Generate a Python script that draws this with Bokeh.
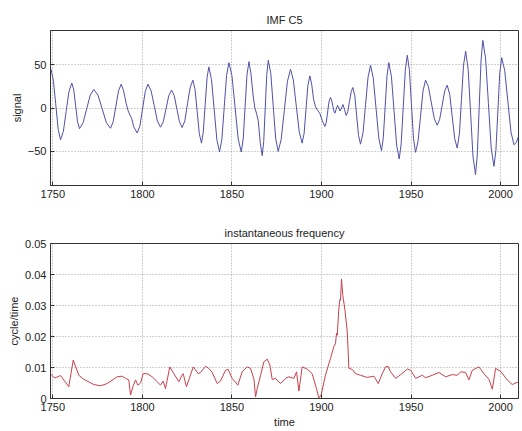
from bokeh.plotting import figure
from bokeh.layouts import column
from bokeh.models import Range1d, FixedTicker, CustomJSTickFormatter
from bokeh.embed import file_html
from bokeh.resources import INLINE

# ---- data ----
signal_years = [
    1749.0, 1750.3, 1751.6, 1753.0, 1754.3,
    1755.9, 1757.45, 1759.0, 1760.6,
    1761.7, 1762.75, 1763.8, 1764.9,
    1766.9, 1768.9, 1770.9, 1772.9,
    1775.2, 1777.55, 1779.9, 1782.2,
    1783.7, 1785.2, 1786.7, 1788.2,
    1789.5, 1791.0, 1792.0, 1793.0, 1794.0, 1795.2, 1797.1,
    1798.6, 1800.1, 1801.6, 1803.1,
    1804.85, 1806.6, 1808.35, 1810.1,
    1811.65, 1813.2, 1814.75, 1816.3,
    1817.8, 1819.25, 1820.7, 1822.2,
    1823.7, 1825.2, 1826.7, 1828.2,
    1829.4, 1830.6, 1831.8, 1833.0,
    1834.0, 1835.05, 1836.1, 1837.1,
    1838.6, 1840.1, 1841.6, 1843.1,
    1844.4, 1845.7, 1847.0, 1848.3,
    1850.0, 1851.75, 1853.5, 1855.2,
    1856.3, 1857.35, 1858.4, 1859.5,
    1860.6, 1861.8, 1862.8, 1863.7, 1864.7, 1865.8, 1866.9,
    1867.75, 1868.6, 1869.45, 1870.3,
    1871.7, 1873.05, 1874.4, 1875.8,
    1877.5, 1879.25, 1881.0, 1882.7,
    1884.3, 1885.95, 1887.6, 1889.2,
    1890.3, 1891.35, 1892.4, 1893.5,
    1894.5, 1895.6, 1896.6, 1897.6, 1899.0, 1900.5, 1901.9,
    1902.7, 1903.45, 1904.2, 1905.0,
    1905.6, 1906.25, 1906.9, 1907.5,
    1908.2, 1909.0, 1909.7, 1910.4, 1911.2, 1912.0, 1912.9, 1913.8,
    1914.7, 1915.65, 1916.6, 1917.5,
    1918.6, 1919.65, 1920.7, 1921.8,
    1923.2, 1924.6, 1926.0, 1927.4,
    1928.9, 1930.45, 1932.0, 1933.5,
    1934.5, 1935.55, 1936.6, 1937.6,
    1939.05, 1940.5, 1941.95, 1943.4,
    1944.5, 1945.65, 1946.8, 1947.9,
    1949.05, 1950.2, 1951.35, 1952.5,
    1953.9, 1955.3, 1956.7, 1958.1,
    1959.7, 1961.35, 1963.0, 1964.6,
    1966.0, 1967.4, 1968.8, 1970.2,
    1971.6, 1973.0, 1974.4, 1975.8,
    1977.0, 1978.15, 1979.3, 1980.5,
    1981.9, 1983.25, 1984.6, 1986.0,
    1987.0, 1988.05, 1989.1, 1990.1,
    1991.65, 1993.2, 1994.75, 1996.3,
    1997.4, 1998.45, 1999.5, 2000.6,
    2002.3, 2004.05, 2005.8, 2007.5,
    2008.8, 2010.0,
]
signal_values = [
    45, 32, 5, -25, -37,
    -27, -4, 19, 29,
    21, 2.5, -16, -24,
    -17, -1, 15, 21.5,
    15, -1, -17, -23.5,
    -16, 2, 20, 27.7,
    20, 5, -3, -8, -12, -22, -29,
    -21, -1, 19, 27.7,
    20, 3, -15, -22.3,
    -16, -1, 14.5, 20.8,
    14.4, -1, -16, -22.7,
    -15, 5, 24, 32.3,
    21.6, -4, -30, -40.8,
    -28, 3.5, 35, 47.7,
    33, -2, -37, -51,
    -36, 1, 37.6, 52.7,
    37.6, 1, -36, -51,
    -36, 1.4, 38.5, 53.8,
    40, 15, 0, -6, -15, -40, -55.4,
    -39, 0, 39, 55.4,
    40, 2.5, -35, -50.4,
    -36.5, -2.7, 31, 45,
    32.5, 2, -28, -40.8,
    -29.4, -1.75, 26, 37.3,
    28, 10, 2, -2, -6, -15, -21.5,
    -16.5, -4.6, 7.4, 12.3,
    9.6, 3.2, -3.3, -6,
    -1.5, 3, 0, -3.5, 0, 4, -2, -8.8,
    -4, 7.5, 19, 23.8,
    14, -9, -32, -42,
    -28.6, 3.8, 36, 49.6,
    35, 0, -35, -49.6,
    -34.7, 1.5, 37.8, 52.7,
    36.4, -3, -43, -59.2,
    -41.6, 1, 43.6, 61.2,
    44.7, 5, -35, -51.5,
    -39, -9.6, 20, 32.3,
    24.7, 6, -12.4, -20,
    -13, 3.3, 19.7, 26.5,
    15.8, -10, -35.8, -46.5,
    -30, 9.8, 49.6, 66,
    45, -5.7, -56.4, -77.3,
    -54.5, 0.6, 55.7, 78.5,
    57, 5.4, -46.4, -67.7,
    -49, -4.6, 40, 58.5,
    43.7, 8, -28, -42.7,
    -40, -33,
]

freq_years = [
    1749, 1751, 1754.3, 1758.9, 1761.4, 1764.5, 1767.3, 1772.9, 1776.6, 1780.3,
    1785.9, 1788.7, 1790.6, 1792.4, 1793.4, 1794.7, 1796.2, 1797.5, 1799, 1800.4,
    1802.7, 1805.5, 1808.3, 1810.1, 1811.6, 1812.9, 1815.3, 1817.6, 1820.4, 1822.2,
    1822.8, 1824.6, 1828.4, 1831.2, 1832.5, 1835.3, 1837.1, 1839, 1841.8, 1843.6,
    1846.4, 1847.9, 1850.1, 1853.3, 1855.7, 1858.5, 1860.4, 1862.3, 1863.2, 1864.1,
    1866, 1867.8, 1869.7, 1871.2, 1872.5, 1874.3, 1877.1, 1879.9, 1881.8, 1884.6,
    1886.1, 1887.4, 1889.2, 1892, 1894.8, 1897.2, 1898.5, 1899.8, 1902.2, 1905,
    1906.9, 1907.8, 1908.4, 1908.8, 1909.7, 1910.3, 1910.6, 1911.2, 1911.9, 1913.1,
    1914.4, 1915.3, 1917.2, 1919, 1921.8, 1925.5, 1929.3, 1931.7, 1933.9, 1935.8,
    1937.1, 1938.6, 1941.4, 1944.2, 1947.9, 1949.8, 1952.6, 1956.3, 1958.1, 1961.9,
    1965.6, 1969.3, 1973, 1975.8, 1977.7, 1980.5, 1982.3, 1984.2, 1987.9, 1990.7,
    1993.5, 1995.4, 1997.2, 2000, 2003.7, 2006.5, 2010,
]
freq_values = [
    0.0078, 0.0066, 0.0074, 0.0038, 0.0124, 0.0075, 0.0062, 0.0045, 0.0041, 0.0048,
    0.0070, 0.0072, 0.0065, 0.0060, 0.0011, 0.0038, 0.0060, 0.0043, 0.0050, 0.0080,
    0.0080, 0.0070, 0.0054, 0.0043, 0.0056, 0.0032, 0.0102, 0.0080, 0.0054, 0.0077,
    0.0080, 0.0038, 0.0102, 0.0080, 0.0084, 0.0104, 0.0097, 0.0084, 0.0048, 0.0056,
    0.0091, 0.0094, 0.0065, 0.0043, 0.0086, 0.0102, 0.0097, 0.0062, 0.0005, 0.0032,
    0.0075, 0.0118, 0.0127, 0.0108, 0.0061, 0.0065, 0.0048, 0.0065, 0.0070, 0.0065,
    0.0086, 0.0024, 0.0102, 0.0095, 0.0080, 0.0032, 0.0002, 0.0011, 0.0075, 0.0129,
    0.0167, 0.0177, 0.0210, 0.0204, 0.0290, 0.0320, 0.0317, 0.0385, 0.0333, 0.0285,
    0.0215, 0.0097, 0.0094, 0.0080, 0.0075, 0.0068, 0.0072, 0.0048, 0.0080, 0.0102,
    0.0104, 0.0086, 0.0065, 0.0077, 0.0095, 0.0091, 0.0065, 0.0075, 0.0067, 0.0075,
    0.0084, 0.0070, 0.0077, 0.0075, 0.0086, 0.0084, 0.0060, 0.0091, 0.0102, 0.0080,
    0.0062, 0.0030, 0.0097, 0.0088, 0.0060, 0.0045, 0.0054,
]

x_ticks = [1750, 1800, 1850, 1900, 1950, 2000]
signal_ticks = [-50, 0, 50]
freq_ticks = [0, 0.01, 0.02, 0.03, 0.04, 0.05]

FONT = "Liberation Sans"


def style(p, title, ylabel, yticks):
    p.title.text = title
    p.title.align = "center"
    p.title.text_font = FONT
    p.title.text_font_size = "11px"
    p.title.text_font_style = "normal"
    p.title.text_color = "#222222"
    p.outline_line_color = "#333333"
    p.outline_line_width = 1
    p.background_fill_color = "white"
    p.border_fill_color = "white"
    p.xaxis.ticker = FixedTicker(ticks=x_ticks)
    p.yaxis.ticker = FixedTicker(ticks=yticks)
    for ax in (p.xaxis, p.yaxis):
        ax.major_tick_in = 4
        ax.major_tick_out = 0
        ax.minor_tick_line_color = None
        ax.axis_line_color = "#333333"
        ax.major_tick_line_color = "#333333"
        ax.major_label_text_font = FONT
        ax.major_label_text_font_size = "11px"
        ax.major_label_text_color = "#222222"
        ax.axis_label_text_font = FONT
        ax.axis_label_text_font_size = "11px"
        ax.axis_label_text_font_style = "normal"
        ax.axis_label_text_color = "#222222"
    p.yaxis.axis_label = ylabel
    p.yaxis.major_label_standoff = 4
    p.yaxis.axis_label_standoff = 2
    p.xaxis.major_label_standoff = 4
    p.grid.grid_line_color = "#a0a0a0"
    p.grid.grid_line_dash = "1 2"
    p.grid.grid_line_width = 1


top = figure(width=522, height=215, output_backend="svg", toolbar_location=None,
             x_range=Range1d(1748.7, 2010), y_range=Range1d(-90, 90),
             min_border_left=50, min_border_right=4, min_border_top=30,
             min_border_bottom=30)
style(top, "IMF C5", "signal", signal_ticks)
top.line(signal_years, signal_values, line_color="#5050a8", line_width=1)

bot = figure(width=522, height=216, output_backend="svg", toolbar_location=None,
             x_range=Range1d(1748.7, 2010), y_range=Range1d(0, 0.05),
             min_border_left=50, min_border_right=4, min_border_top=28,
             min_border_bottom=33)
style(bot, "instantaneous frequency", "cycle/time", freq_ticks)
bot.yaxis.formatter = CustomJSTickFormatter(code="return String(Math.round(tick*100)/100);")
bot.xaxis.axis_label = "time"
bot.xaxis.axis_label_standoff = 2
bot.line(freq_years, freq_values, line_color="#c8404c", line_width=1)

layout = column(top, bot, spacing=0)
open("out.html", "w").write(file_html(layout, INLINE))
